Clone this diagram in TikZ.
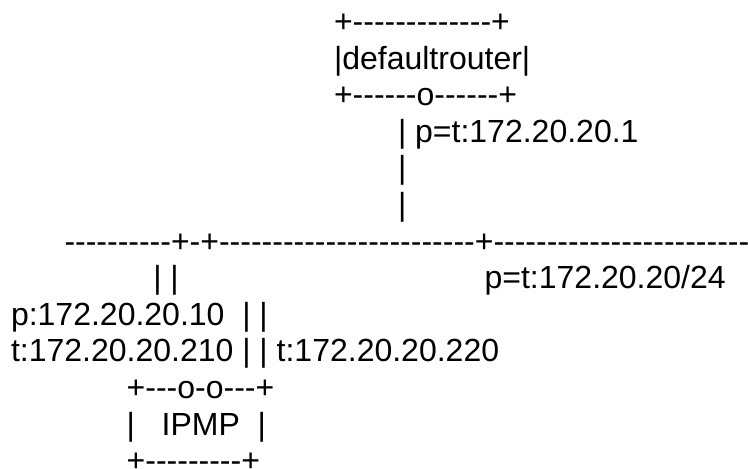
\documentclass[tikz,border=0pt]{standalone}
\usepackage{fontspec}
\newfontfamily\asc{Liberation Sans}[Ligatures=TeXOff]
\begin{document}
\begin{tikzpicture}[x=1pt,y=-1pt,
  txt/.style={anchor=base west,inner sep=0pt,outer sep=0pt,
    font=\asc\fontsize{32}{36.6}\selectfont\frenchspacing}]
\useasboundingbox (0,0) rectangle (748,469);
\node[txt] (l1)  at (334,32.5)  {+-------------+};
\node[txt] (l2)  at (334,69.1)  {|defaultrouter|};
\node[txt] (l3)  at (334,105.7) {+------o------+};
\node[txt] (l4)  at (398,142.3) {| p=t:172.20.20.1};
\node[txt] (l5)  at (398,178.9) {|};
\node[txt] (l6)  at (398,215.5) {|};
\node[txt] (l7)  at (64.5,252.1) {----------+-+------------------------+------------------------------};
\node[txt] (l8a) at (153.3,288.7) {| |};
\node[txt] (l8b) at (484.6,288.7) {p=t:172.20.20/24};
\node[txt] (l9)  at (11,325.3)  {p:172.20.20.10~~| |};
\node[txt] (l10) at (11,361.9)  {t:172.20.20.210 | | t:172.20.20.220};
\node[txt] (l11) at (126.7,398.5) {+---o-o---+};
\node[txt] (l12) at (126.7,435.1) {|~~~IPMP~~|};
\node[txt] (l13) at (126.7,471.7) {+---------+};
\end{tikzpicture}
\end{document}
